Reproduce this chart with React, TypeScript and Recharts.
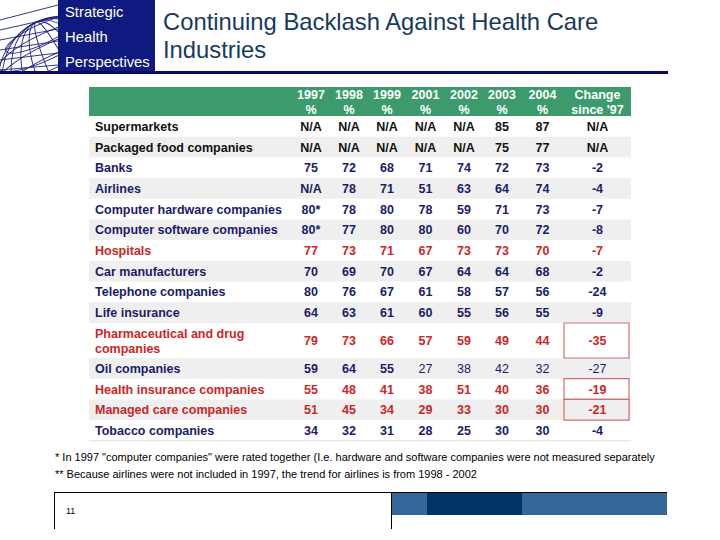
import React from "react";
import { ScatterChart, Scatter, XAxis, YAxis, ReferenceArea, ReferenceLine } from "recharts";

// table data, N/A = null
const INDUSTRIES = [
  "Supermarkets",
  "Packaged food companies",
  "Banks",
  "Airlines",
  "Computer hardware companies",
  "Computer software companies",
  "Hospitals",
  "Car manufacturers",
  "Telephone companies",
  "Life insurance",
  "Pharmaceutical and drug companies",
  "Oil companies",
  "Health insurance companies",
  "Managed care companies",
  "Tobacco companies",
];
const Y1997 = [null, null, 75, null, 80, 80, 77, 70, 80, 64, 79, 59, 55, 51, 34];
const Y1998 = [null, null, 72, 78, 78, 77, 73, 69, 76, 63, 73, 64, 48, 45, 32];
const Y1999 = [null, null, 68, 71, 80, 80, 71, 70, 67, 61, 66, 55, 41, 34, 31];
const Y2001 = [null, null, 71, 51, 78, 80, 67, 67, 61, 60, 57, 27, 38, 29, 28];
const Y2002 = [null, null, 74, 63, 59, 60, 73, 64, 58, 55, 59, 38, 51, 33, 25];
const Y2003 = [85, 75, 72, 64, 71, 70, 73, 64, 57, 56, 49, 42, 40, 30, 30];
const Y2004 = [87, 77, 73, 74, 73, 72, 70, 68, 56, 55, 44, 32, 36, 30, 30];
const CHANGE = [null, null, -2, -4, -7, -8, -7, -2, -24, -9, -35, -27, -19, -21, -4];

const HEADERS = [["1997", "%"], ["1998", "%"], ["1999", "%"], ["2001", "%"], ["2002", "%"], ["2003", "%"], ["2004", "%"], ["Change", "since '97"]];
const STARRED_1997 = ["Computer hardware companies", "Computer software companies"];
const HEALTH_CARE = ["Hospitals", "Pharmaceutical and drug companies", "Health insurance companies", "Managed care companies"];
const PLAIN_ROWS = ["Supermarkets", "Packaged food companies"];
const BOXED = ["Pharmaceutical and drug companies", "Health insurance companies", "Managed care companies"];
const WRAPPED: Record<string, string[]> = {
  "Pharmaceutical and drug companies": ["Pharmaceutical and drug", "companies"],
};

// layout
const COL_WIDTHS = [203, 38, 38, 38, 39, 38, 38, 43, 67];
const HEAD_H = 29;
const ROW_H = 20.7;
const ROW_H2 = 35;

const NAVY = "#1b1b6b";
const RED = "#cc2626";
const INK = "#111111";
const GREEN = "#3c9a6c";
const STRIPE = "#efefef";

const colEdges = COL_WIDTHS.reduce<number[]>((acc, w) => [...acc, acc[acc.length - 1] + w], [0]);
const TABLE_W = colEdges[colEdges.length - 1];
const colCenter = (i: number) => (colEdges[i] + colEdges[i + 1]) / 2;

const rowHeights = INDUSTRIES.map((n) => (WRAPPED[n] ? ROW_H2 : ROW_H));
const rowTops = rowHeights.reduce<number[]>((acc, h) => [...acc, acc[acc.length - 1] + h], [HEAD_H]);
const TABLE_H = rowTops[rowTops.length - 1];

const rowColor = (name: string) =>
  HEALTH_CARE.includes(name) ? RED : PLAIN_ROWS.includes(name) ? INK : NAVY;

const SERIES = [Y1997, Y1998, Y1999, Y2001, Y2002, Y2003, Y2004, CHANGE];

const labelPoints = INDUSTRIES.map((name, i) => ({
  x: 6,
  y: rowTops[i] + rowHeights[i] / 2,
  lines: WRAPPED[name] ?? [name],
  color: rowColor(name),
  anchor: "start",
  weight: "bold",
}));

const valuePoints = SERIES.flatMap((vals, c) =>
  vals.map((v, i) => {
    const name = INDUSTRIES[i];
    let text = v === null ? "N/A" : String(v);
    if (c === 0 && STARRED_1997.includes(name)) text += "*";
    const light = name === "Oil companies" && c >= 3;
    return {
      x: colCenter(c + 1),
      y: rowTops[i] + rowHeights[i] / 2,
      lines: [text],
      color: rowColor(name),
      anchor: "middle",
      weight: light ? "normal" : "bold",
    };
  })
);

const headerPoints = HEADERS.map((h, c) => ({
  x: colCenter(c + 1),
  y: HEAD_H / 2,
  lines: h,
  color: "#ffffff",
  anchor: "middle",
  weight: "bold",
}));

function CellText(props: any) {
  const { cx, cy, payload } = props;
  const lines: string[] = payload.lines;
  const step = lines.length > 1 ? 15 : 0;
  const start = cy - (step * (lines.length - 1)) / 2;
  return (
    <text
      textAnchor={payload.anchor}
      fill={payload.color}
      fontSize={12.5}
      fontWeight={payload.weight}
      fontFamily="'Liberation Sans', Arial, sans-serif"
    >
      {lines.map((l, k) => (
        <tspan key={k} x={cx} y={start + k * step} dy="0.36em">
          {l}
        </tspan>
      ))}
    </text>
  );
}

function Globe() {
  const cx = 64, cy = 82, r = 66;
  const meridians = [0.15, 0.35, 0.55, 0.75, 0.92];
  const parallels = [-0.8, -0.6, -0.4, -0.2, 0];
  return (
    <svg width={58} height={71} style={{ position: "absolute", left: 0, top: 0, background: "#fff" }}>
      <g fill="none" stroke="#1a237e" strokeWidth={0.9}>
        <circle cx={cx} cy={cy} r={r} />
        {meridians.map((m, i) => (
          <ellipse key={"m" + i} cx={cx} cy={cy} rx={r * m} ry={r} transform={`rotate(-25 ${cx} ${cy})`} />
        ))}
        {parallels.map((p, i) => {
          const y = cy + p * r;
          const w = Math.sqrt(Math.max(0, 1 - p * p)) * r;
          return <ellipse key={"p" + i} cx={cx} cy={y} rx={w} ry={w * 0.25} transform={`rotate(-25 ${cx} ${cy})`} />;
        })}
        {[0, 1, 2, 3, 4, 5].map((i) => (
          <line key={"d" + i} x1={0} y1={20 + i * 10} x2={58} y2={5 + i * 12} />
        ))}
      </g>
    </svg>
  );
}

export default function App() {
  return (
    <div
      style={{
        position: "absolute",
        left: 0,
        top: 0,
        width: 720,
        height: 540,
        background: "#fff",
        overflow: "hidden",
        fontFamily: "'Liberation Sans', Arial, sans-serif",
      }}
    >
      {/* logo block */}
      <div style={{ position: "absolute", left: 0, top: 0, width: 155, height: 71, background: "#0f1a80" }}>
        <Globe />
        {["Strategic", "Health", "Perspectives"].map((t, i) => (
          <div
            key={t}
            style={{ position: "absolute", left: 65, top: [3, 28, 53][i], color: "#fff", fontSize: 14.8, lineHeight: "18px" }}
          >
            {t}
          </div>
        ))}
      </div>
      <div style={{ position: "absolute", left: 0, top: 71, width: 668, height: 3, background: "#0a0a5c" }} />
      <div
        style={{ position: "absolute", left: 163, top: 8, color: "#173a5e", fontSize: 23.8, lineHeight: "28px", width: 500 }}
      >
        Continuing Backlash Against Health Care
        <br />
        Industries
      </div>

      <ScatterChart
        width={720}
        height={540}
        margin={{ top: 87, right: 720 - 89 - TABLE_W, bottom: 540 - 87 - TABLE_H, left: 89 }}
        style={{ position: "absolute", left: 0, top: 0 }}
      >
        <XAxis type="number" dataKey="x" domain={[0, TABLE_W]} hide allowDataOverflow />
        <YAxis type="number" dataKey="y" domain={[0, TABLE_H]} reversed hide allowDataOverflow />
        <ReferenceArea x1={0} x2={TABLE_W} y1={0} y2={HEAD_H} fill={GREEN} fillOpacity={1} stroke="none" />
        {INDUSTRIES.map((n, i) =>
          i % 2 === 1 ? (
            <ReferenceArea
              key={n}
              x1={0}
              x2={TABLE_W}
              y1={rowTops[i]}
              y2={rowTops[i + 1]}
              fill={STRIPE}
              fillOpacity={1}
              stroke="none"
            />
          ) : null
        )}
        {INDUSTRIES.map((n, i) =>
          BOXED.includes(n) ? (
            <ReferenceArea
              key={"box" + n}
              x1={colEdges[8]}
              x2={colEdges[9] - 2}
              y1={rowTops[i]}
              y2={rowTops[i + 1]}
              fill="none"
              stroke="#cf7070"
              strokeWidth={1.2}
            />
          ) : null
        )}
        <ReferenceLine y={TABLE_H} stroke="#dddddd" />
        <Scatter data={headerPoints} shape={(p: any) => <CellText {...p} />} isAnimationActive={false} />
        <Scatter data={labelPoints} shape={(p: any) => <CellText {...p} />} isAnimationActive={false} />
        <Scatter data={valuePoints} shape={(p: any) => <CellText {...p} />} isAnimationActive={false} />
      </ScatterChart>

      {/* footnotes */}
      <div style={{ position: "absolute", left: 55, top: 449, fontSize: 11, lineHeight: "17px", color: "#000" }}>
        * In 1997 "computer companies" were rated together (I.e. hardware and software companies were not measured separately
        <br />
        ** Because airlines were not included in 1997, the trend for airlines is from 1998 - 2002
      </div>

      {/* footer */}
      <div style={{ position: "absolute", left: 54, top: 492, width: 613, height: 1, background: "#000" }} />
      <div style={{ position: "absolute", left: 54, top: 492, width: 1, height: 37, background: "#000" }} />
      <div style={{ position: "absolute", left: 391, top: 492, width: 1, height: 37, background: "#000" }} />
      <div style={{ position: "absolute", left: 392, top: 493, width: 275, height: 22, background: "#336699" }} />
      <div style={{ position: "absolute", left: 427, top: 493, width: 95, height: 22, background: "#003366" }} />
      <div style={{ position: "absolute", left: 66, top: 506, fontSize: 9, color: "#000" }}>11</div>
    </div>
  );
}
